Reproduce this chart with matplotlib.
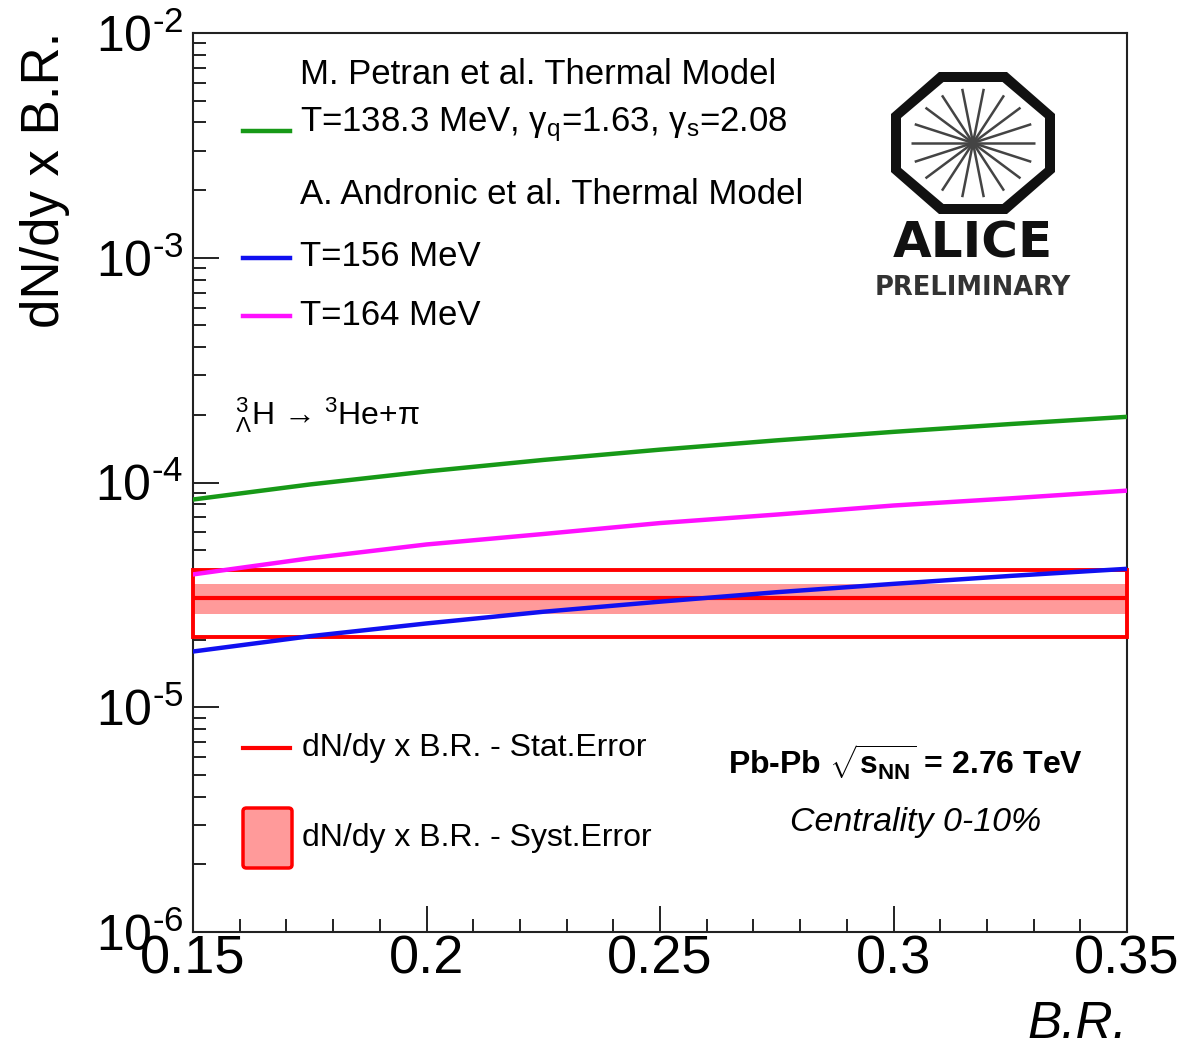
import numpy as np
import matplotlib
matplotlib.use("Agg")
import matplotlib.pyplot as plt
from matplotlib import rcParams
from matplotlib.patches import Polygon, Rectangle, FancyBboxPatch
from matplotlib.ticker import MultipleLocator, LogLocator, NullFormatter

rcParams['font.family'] = 'Liberation Sans'
rcParams['mathtext.fontset'] = 'custom'
rcParams['mathtext.rm'] = 'Liberation Sans'
rcParams['mathtext.it'] = 'Liberation Sans:italic'
rcParams['mathtext.bf'] = 'Liberation Sans:bold'
rcParams['mathtext.sf'] = 'Liberation Sans'

# branching ratio scan
br = [0.15, 0.175, 0.2, 0.225, 0.25, 0.275, 0.3, 0.325, 0.35]
# thermal model predictions of dN/dy x B.R.
petran_138 = [8.4e-5, 9.8e-5, 1.12e-4, 1.26e-4, 1.40e-4, 1.54e-4, 1.68e-4, 1.82e-4, 1.96e-4]
andronic_156 = [1.77e-5, 2.07e-5, 2.36e-5, 2.66e-5, 2.95e-5, 3.25e-5, 3.54e-5, 3.84e-5, 4.13e-5]
andronic_164 = [3.9e-5, 4.6e-5, 5.3e-5, 5.9e-5, 6.6e-5, 7.2e-5, 7.9e-5, 8.5e-5, 9.2e-5]

# measured dN/dy x B.R.
measured = 3.05e-5
band_lo, band_hi = 2.6e-5, 3.55e-5
box_lo, box_hi = 2.05e-5, 4.1e-5

xticks = [0.15, 0.2, 0.25, 0.3, 0.35]
xlabels = ['0.15', '0.2', '0.25', '0.3', '0.35']
yticks = [1e-6, 1e-5, 1e-4, 1e-3, 1e-2]
ylabels = [r'$10^{\text{-6}}$', r'$10^{\text{-5}}$', r'$10^{\text{-4}}$',
           r'$10^{\text{-3}}$', r'$10^{\text{-2}}$']

GREEN = '#179917'
BLUE = '#1010f0'
MAGENTA = '#ff10ff'
RED = '#ff0000'
PINK = '#ff9a9a'

W, H = 1181, 1051


def fx(x):
    return x / W


def fy(y):
    return 1 - y / H


fig = plt.figure(figsize=(W / 100, H / 100), dpi=100)
ax = fig.add_axes([fx(193), fy(932), (1127 - 193) / W, (932 - 33) / H])
ax.set_yscale('log')
ax.set_xlim(0.15, 0.35)
ax.set_ylim(1e-6, 1e-2)

for s in ax.spines.values():
    s.set_linewidth(1.5)
    s.set_color('#222222')

ax.set_xticks(xticks, xlabels)
ax.xaxis.set_minor_locator(MultipleLocator(0.01))
ax.set_yticks(yticks, ylabels)
ax.yaxis.set_minor_locator(LogLocator(base=10, subs=np.arange(2, 10)))
ax.yaxis.set_minor_formatter(NullFormatter())
ax.tick_params(which='both', direction='in', top=False, right=False, color='#222222')
ax.tick_params(which='major', length=19, width=1.4)
ax.tick_params(which='minor', length=9.5, width=1.4)
ax.tick_params(axis='x', which='major', labelsize=39, pad=2)
ax.tick_params(axis='y', which='major', labelsize=36, pad=7)

# measurement: total box, error band and central value
ax.fill_between([0.15, 0.35], band_lo, band_hi, color=PINK, lw=0, zorder=2)
ax.hlines(measured, 0.15, 0.35, color=RED, lw=3, zorder=3)
ax.add_patch(Rectangle((0.15, box_lo), 0.2, box_hi - box_lo, fill=False,
                       ec=RED, lw=2.8, zorder=3, clip_on=False))

ax.plot(br, petran_138, color=GREEN, lw=3.2, zorder=4)
ax.plot(br, andronic_164, color=MAGENTA, lw=3.2, zorder=4)
ax.plot(br, andronic_156, color=BLUE, lw=3.2, zorder=4)

# axis titles
fig.text(fx(45), fy(32), 'dN/dy x B.R.', rotation=90, ha='center', va='top', fontsize=38)
fig.text(fx(1127), fy(1025), 'B.R.', style='italic', ha='right', va='center', fontsize=37)

# model legend
def legend_line(y, color):
    ax.plot([fx(243), fx(290)], [fy(y), fy(y)], color=color, lw=3.2,
            transform=fig.transFigure, clip_on=False)


fig.text(fx(300), fy(74), 'M. Petran et al. Thermal Model', fontsize=25, va='center')
fig.text(fx(300), fy(125), r'T=138.3 MeV, $\mathregular{\gamma_{q}}$=1.63, $\mathregular{\gamma_{s}}$=2.08',
         fontsize=25, va='center')
legend_line(131, GREEN)
fig.text(fx(300), fy(195), 'A. Andronic et al. Thermal Model', fontsize=25, va='center')
fig.text(fx(300), fy(257), 'T=156 MeV', fontsize=25, va='center')
legend_line(258, BLUE)
fig.text(fx(300), fy(315), 'T=164 MeV', fontsize=25, va='center')
legend_line(316, MAGENTA)

fig.text(fx(235), fy(415), '${}^{3}_{\\Lambda}$H \u2192 $^{3}$He+\u03c0',
         fontsize=23, va='center')

# measurement legend
ax.plot([fx(243), fx(290)], [fy(748), fy(748)], color=RED, lw=3,
        transform=fig.transFigure, clip_on=False)
fig.text(fx(302), fy(748), 'dN/dy x B.R. - Stat.Error', fontsize=23, va='center')
fig.add_artist(FancyBboxPatch((fx(243), fy(868)), fx(49), 60 / H,
                              boxstyle='round,pad=0,rounding_size=0.003',
                              fc=PINK, ec=RED, lw=2.5, transform=fig.transFigure))
fig.text(fx(302), fy(838), 'dN/dy x B.R. - Syst.Error', fontsize=23, va='center')

fig.text(fx(728), fy(762), r'Pb-Pb $\sqrt{\mathbf{s}_{\mathbf{NN}}}$ = 2.76 TeV',
         fontsize=23, fontweight='bold', va='center')
fig.text(fx(790), fy(822), 'Centrality 0-10%', fontsize=24.5, style='italic', va='center')

# ALICE logo
lax = fig.add_axes([fx(860), fy(310), 240 / W, 260 / H])
lax.set_xlim(860, 1100)
lax.set_ylim(310, 50)
lax.axis('off')


def octagon(cx, cy, a, b, ca, cb):
    return [(cx - ca, cy - b), (cx + ca, cy - b), (cx + a, cy - cb), (cx + a, cy + cb),
            (cx + ca, cy + b), (cx - ca, cy + b), (cx - a, cy + cb), (cx - a, cy - cb)]


cx, cy = 973, 143
lax.add_patch(Polygon(octagon(cx, cy, 82, 71, 34, 29), closed=True, fc='#111111', ec='none'))
lax.add_patch(Polygon(octagon(cx, cy, 72, 61, 29.5, 25), closed=True, fc='white', ec='none'))
for k in range(18):
    ang = np.deg2rad(20 * k)
    lax.plot([cx, cx + 62 * np.cos(ang)], [cy, cy - 55 * np.sin(ang)],
             color='#444444', lw=1.8, solid_capstyle='butt')
lax.text(cx, 243, 'ALICE', fontsize=36, fontweight='bold', family='DejaVu Sans',
         ha='center', va='center', color='#111111')
lax.text(cx, 288, 'PRELIMINARY', fontsize=18.5, fontweight='bold', family='DejaVu Sans',
         ha='center', va='center', color='#333333')

fig.savefig('out.png', dpi=100)
